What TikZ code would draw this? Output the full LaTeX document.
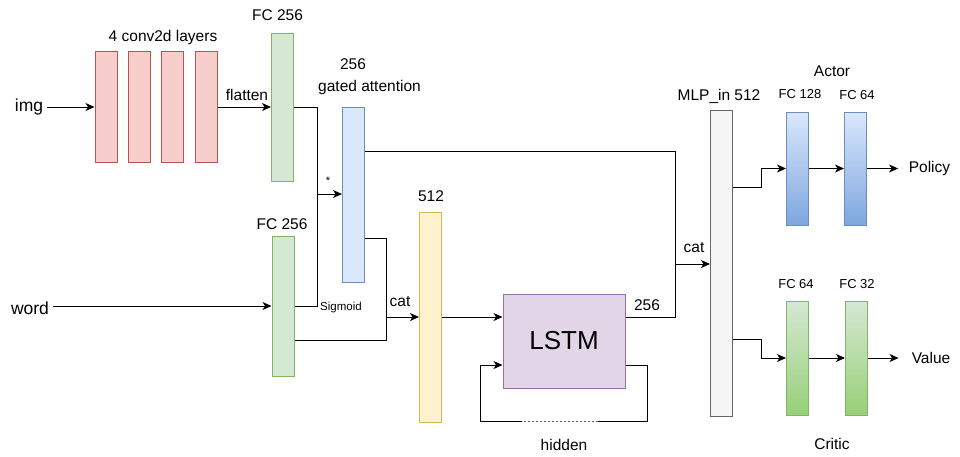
\documentclass[tikz,border=0pt]{standalone}
\usepackage{fontspec}
\setmainfont{Liberation Sans}
\usetikzlibrary{arrows.meta}
\definecolor{redF}{HTML}{F8CECC}\definecolor{redD}{HTML}{B85450}
\definecolor{grnF}{HTML}{D5E8D4}\definecolor{grnD}{HTML}{82B366}
\definecolor{bluF}{HTML}{DAE8FC}\definecolor{bluD}{HTML}{6C8EBF}
\definecolor{yelF}{HTML}{FFF2CC}\definecolor{yelD}{HTML}{D6B656}
\definecolor{purF}{HTML}{E1D5E7}\definecolor{purD}{HTML}{9673A6}
\definecolor{gryF}{HTML}{F5F5F5}\definecolor{gryD}{HTML}{666666}
\definecolor{bluB}{HTML}{7EA6E0}\definecolor{grnB}{HTML}{97D077}
\definecolor{lineC}{HTML}{000000}
\tikzset{
  layer/.style={rectangle,inner sep=0pt,line width=1pt,minimum width=22pt},
  convbox/.style={layer,fill=redF,draw=redD,minimum height=111pt},
  lbl/.style={inner sep=0pt,font=\fontsize{15.5}{18}\selectfont},
  sml/.style={inner sep=0pt,font=\fontsize{13}{15}\selectfont},
  io/.style={inner sep=0pt,font=\fontsize{17.5}{20}\selectfont},
  conn/.style={line width=1pt,draw=lineC},
  arr/.style={conn,-{Stealth[length=9pt,width=8pt,inset=2.5pt]}},
}
\begin{document}
\begin{tikzpicture}[x=1pt,y=-1pt]
\useasboundingbox[fill=white] (0,0) rectangle (960,456);
% conv layers
\node[convbox] (c1) at (106,106.5) {};
\node[convbox] (c2) at (139,106.5) {};
\node[convbox] (c3) at (172,106.5) {};
\node[convbox] (c4) at (206,106.5) {};
\node[lbl] (convl) at (163,37) {4 conv2d layers};
% FC image
\node[layer,fill=grnF,draw=grnD,minimum height=148pt] (fc1) at (282.5,107) {};
\node[lbl] (fc1l) at (277.5,15) {FC 256};
% FC word
\node[layer,fill=grnF,draw=grnD,minimum height=140pt] (fc2) at (283,306) {};
\node[lbl] (fc2l) at (282,224) {FC 256};
% gated attention
\node[layer,fill=bluF,draw=bluD,minimum height=175pt] (ga) at (353.5,194.5) {};
\node[lbl] (gal1) at (353,64) {256};
\node[lbl] (gal2) at (369.5,87) {gated attention};
% yellow
\node[layer,fill=yelF,draw=yelD,minimum height=210pt] (ye) at (430.5,317) {};
\node[lbl] (yel) at (431,196) {512};
% LSTM
\node[rectangle,inner sep=0pt,line width=1pt,fill=purF,draw=purD,minimum width=122pt,minimum height=94pt,font=\fontsize{26}{30}\selectfont] (lstm) at (564,341) {LSTM};
% MLP
\node[layer,fill=gryF,draw=gryD,minimum height=306pt] (mlp) at (721.5,263) {};
\node[lbl] (mlpl) at (719,96) {MLP\_in 512};
% actor
\node[layer,top color=bluF,bottom color=bluB,draw=bluD,minimum height=113pt] (a1) at (797.5,168.5) {};
\node[layer,top color=bluF,bottom color=bluB,draw=bluD,minimum height=113pt] (a2) at (855.5,168.5) {};
\node[sml] (a1l) at (800,94) {FC 128};
\node[sml] (a2l) at (857,95) {FC 64};
\node[lbl] (actl) at (832,71) {Actor};
% critic
\node[layer,top color=grnF,bottom color=grnB,draw=grnD,minimum height=114pt] (k1) at (797.5,358) {};
\node[layer,top color=grnF,bottom color=grnB,draw=grnD,minimum height=114pt] (k2) at (856.5,358) {};
\node[sml] (k1l) at (796,284) {FC 64};
\node[sml] (k2l) at (857,284) {FC 32};
\node[lbl] (crl) at (832,444) {Critic};
% io texts
\node[io,inner xsep=4pt] (img) at (29,107) {img};
\node[io,inner xsep=4pt] (word) at (30,308) {word};
\node[lbl,inner xsep=10.5pt] (pol) at (929.5,168.5) {Policy};
\node[lbl,inner xsep=13pt] (val) at (931,358) {Value};
% junction coordinates
\coordinate (j1) at (317,194);
\coordinate (j2) at (386,317);
\coordinate (j3) at (675,264);
\coordinate (ja) at (761,168.5);
\coordinate (jc) at (761,358);
% connectors
\draw[arr] (img.east) -- (c1.west |- img.east);
\draw[arr] (c4.east |- 0,107) -- (fc1.west |- 0,107);
\node[lbl] (flat) at (247,95) {flatten};
\draw[arr] (fc1.east |- 0,107) -| (j1) -- (ga.west |- j1);
\node[inner sep=0pt,font=\fontsize{11}{12}\selectfont] (star) at (328,181) {*};
\draw[conn] (fc2.east |- 0,306) -| (j1);
\draw[arr] (word.east |- 0,306) -- (fc2.west |- 0,306);
\node[inner sep=0pt,font=\fontsize{11.5}{13}\selectfont] (sig) at (341,308) {Sigmoid};
\draw[conn] (ga.east |- 0,238) -| (j2);
\draw[conn] (fc2.east |- 0,340) -| (j2);
\draw[arr] (j2) -- (ye.west |- j2);
\node[lbl] (cat1) at (400,302) {cat};
\draw[arr] (ye.east |- 0,317) -- (lstm.west |- 0,317);
\draw[conn] (lstm.east |- 0,317) -| (j3);
\node[lbl] (l256) at (647,305) {256};
\draw[arr] (ga.east |- 0,151) -| (j3) -- (mlp.west |- j3);
\node[lbl] (cat2) at (694,248) {cat};
% hidden loop
\coordinate (h1) at (647,421);
\coordinate (h2) at (598,421);
\coordinate (h3) at (522,421);
\coordinate (h4) at (480,421);
\draw[conn] (lstm.east |- 0,365) -| (h1) -- (h2);
\draw[line width=1pt,draw=gryD,dash pattern=on 2pt off 2pt] (h2) -- (h3);
\draw[arr] (h3) -- (h4) |- (lstm.west |- 0,365);
\node[lbl] (hid) at (564,445) {hidden};
% actor / critic
\draw[arr] (mlp.east |- 0,187) -| (ja) -- (a1.west);
\draw[arr] (a1.east) -- (a2.west);
\draw[arr] (a2.east) -- (pol.west);
\draw[arr] (mlp.east |- 0,339) -| (jc) -- (k1.west);
\draw[arr] (k1.east) -- (k2.west);
\draw[arr] (k2.east) -- (val.west);
\end{tikzpicture}
\end{document}
